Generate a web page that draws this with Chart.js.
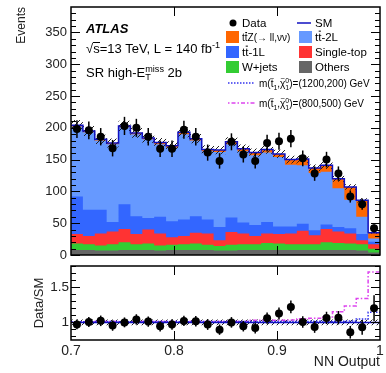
<!DOCTYPE html>
<html>
<head>
<meta charset="utf-8">
<script src="https://cdn.jsdelivr.net/npm/chart.js@4.4.0/dist/chart.umd.min.js"></script>
<style>
body { margin: 0; background: #fff; }
#wrap { position: relative; width: 386px; height: 373px; }
#main { position: absolute; left: 0; top: 0; }
#ratio { position: absolute; left: 0; top: 262px; }
</style>
</head>
<body>
<div id="wrap">
<canvas id="main" width="386" height="262"></canvas>
<canvas id="ratio" width="386" height="111"></canvas>
</div>
<script>
// NN output binning
var binLo = 0.7, binHi = 1.0;

// observed events per bin
var dataObs = [198, 196, 186, 168, 203, 200, 186, 167, 167, 197, 186, 161, 148, 178, 158, 148, 176, 179, 183, 152, 128, 150, 128, 92, 80, 42];

// background yields per bin
var others    = [8, 8, 7, 7, 8, 8, 8, 7, 8, 8, 8, 8, 7, 7, 8, 8, 8, 8, 8, 8, 8, 8, 8, 8, 7, 4];
var wjets     = [10, 9, 8, 10, 12, 9, 10, 8, 8, 9, 10, 8, 7, 9, 9, 9, 11, 10, 9, 9, 9, 12, 11, 10, 10, 6];
var singleTop = [15, 13, 19, 20, 21, 16, 22, 19, 12, 13, 17, 18, 9, 20, 17, 13, 15, 15, 17, 21, 14, 21, 18, 16, 6, 7];
var tt1L      = [59, 41, 37, 15, 39, 28, 18, 26, 25, 26, 26, 22, 21, 23, 17, 17, 18, 12, 11, 11, 8, 7, 7, 8, 10, 4];
var tt2L      = [110, 122, 109, 122, 121, 129, 124, 114, 116, 134, 119, 107, 118, 115, 112, 110, 109, 109, 97, 92, 90, 83, 61, 45, 27, 5];
var ttZ       = [2, 2, 2, 2, 2, 2, 2, 3, 3, 3, 3, 3, 3, 4, 4, 4, 5, 5, 8, 10, 8, 10, 15, 20, 26, 9];

// signal yields per bin
var sig1200 = [2, 2, 2, 2, 2, 2, 2, 2, 2, 2, 2, 2, 2, 2, 2, 2, 2, 2, 2, 2, 2, 2, 2, 2, 4, 5];
var sig800  = [2, 2, 2, 2, 2, 2, 2, 2, 2, 2, 2, 2, 2, 2, 2, 5, 5, 5, 5, 8, 8, 11, 18, 25, 29, 25];

var systFrac = 0.04;

var yTicksMain = [0, 50, 100, 150, 200, 250, 300, 350];
var yTicksRatio = [1, 1.5];
var xTicks = [0.7, 0.8, 0.9, 1];

var nBins = dataObs.length;
var binW = (binHi - binLo) / nBins;

var colOthers = '#666666', colW = '#33cc33', colST = '#ff3333', col1L = '#3366ff', col2L = '#6699ff', colZ = '#ff6600';
var colSM = '#1010c0', colS1 = '#3333ee', colS2 = '#dd44ee';
var fontFam = '"Liberation Sans", Arial, sans-serif';

function steps(vals) {
  var pts = vals.map(function (v, i) { return { x: binLo + i * binW, y: v }; });
  pts.push({ x: binHi, y: vals[vals.length - 1] });
  return pts;
}

function centers(vals) {
  return vals.map(function (v, i) { return { x: binLo + (i + 0.5) * binW, y: v }; });
}

// running sums for the stack
var comps = [others, wjets, singleTop, tt1L, tt2L, ttZ];
var cum = [];
comps.forEach(function (c, k) {
  cum.push(c.map(function (v, i) { return v + (k ? cum[k - 1][i] : 0); }));
});
var sm = cum[cum.length - 1];

var ratio = dataObs.map(function (v, i) { return v / sm[i]; });
var errMain = dataObs.map(function (v) { return Math.sqrt(v); });
var errRatio = dataObs.map(function (v, i) { return Math.sqrt(v) / sm[i]; });

function hatch(ctx) {
  var c = document.createElement('canvas');
  c.width = 5; c.height = 5;
  var g = c.getContext('2d');
  g.strokeStyle = '#222';
  g.lineWidth = 1;
  g.beginPath();
  g.moveTo(0, 5); g.lineTo(5, 0);
  g.moveTo(-1, 1); g.lineTo(1, -1);
  g.moveTo(4, 6); g.lineTo(6, 4);
  g.stroke();
  return ctx.createPattern(c, 'repeat');
}

// keep the plot area where the layout padding puts it
function noEdgePadding(s) {
  s.paddingTop = 0; s.paddingBottom = 0; s.paddingLeft = 0; s.paddingRight = 0;
}

// frame with inward ticks on all four sides
var framePlugin = {
  id: 'frame',
  afterDraw: function (chart, args, opts) {
    var ctx = chart.ctx, a = chart.chartArea, xs = chart.scales.x, ys = chart.scales.y;
    ctx.save();
    ctx.strokeStyle = '#000';
    ctx.lineWidth = 1;
    ctx.beginPath();
    opts.minor.forEach(function (v) {
      var py = Math.round(ys.getPixelForValue(v)) + 0.5;
      var len = opts.major.indexOf(v) >= 0 ? 9 : 5;
      ctx.moveTo(a.left, py); ctx.lineTo(a.left + len, py);
      ctx.moveTo(a.right, py); ctx.lineTo(a.right - len, py);
    });
    opts.xMajor.forEach(function (v) {
      var px = Math.round(xs.getPixelForValue(v)) + 0.5;
      ctx.moveTo(px, a.top); ctx.lineTo(px, a.top + 9);
      ctx.moveTo(px, a.bottom); ctx.lineTo(px, a.bottom - 9);
    });
    ctx.stroke();
    ctx.lineWidth = 1.5;
    ctx.strokeRect(a.left, a.top, a.right - a.left, a.bottom - a.top);
    ctx.restore();
  }
};

var errPlugin = {
  id: 'errbars',
  afterDatasetsDraw: function (chart) {
    var ctx = chart.ctx, ys = chart.scales.y;
    chart.data.datasets.forEach(function (ds, di) {
      if (!ds.errors) return;
      var meta = chart.getDatasetMeta(di);
      ctx.save();
      ctx.strokeStyle = '#000';
      ctx.lineWidth = 1.5;
      meta.data.forEach(function (pt, i) {
        var y = ds.data[i].y, e = ds.errors[i];
        ctx.beginPath();
        ctx.moveTo(pt.x, ys.getPixelForValue(y - e));
        ctx.lineTo(pt.x, ys.getPixelForValue(y + e));
        ctx.stroke();
      });
      ctx.restore();
    });
  }
};

// text with sub/superscripts, tildes and bars
function rich(ctx, x, y, parts, size) {
  parts.forEach(function (p) {
    if (typeof p === 'string') p = { t: p };
    if (p.sub !== undefined || p.sup !== undefined) {
      var s = size * 0.7, w = 0;
      ctx.font = s + 'px ' + fontFam;
      if (p.sup !== undefined) { ctx.fillText(p.sup, x, y - size * 0.42); w = ctx.measureText(p.sup).width; }
      if (p.sub !== undefined) { ctx.fillText(p.sub, x, y + size * 0.25); w = Math.max(w, ctx.measureText(p.sub).width); }
      x += w;
      return;
    }
    ctx.font = size + 'px ' + fontFam;
    var tw = ctx.measureText(p.t).width;
    ctx.fillText(p.t, x, y);
    if (p.bar) {
      ctx.fillRect(x + 0.5, y - size * 0.9, tw - 1, 1);
    }
    if (p.tilde) {
      ctx.font = (size * 0.75) + 'px ' + fontFam;
      var ww = ctx.measureText('~').width;
      ctx.fillText('~', x + (tw - ww) / 2, y - size * 0.62);
    }
    x += tw;
  });
  return x;
}

var labelPlugin = {
  id: 'labels',
  afterDraw: function (chart) {
    var ctx = chart.ctx;
    ctx.save();
    ctx.fillStyle = '#000';
    ctx.textBaseline = 'alphabetic';
    ctx.font = 'italic bold 13px ' + fontFam;
    ctx.fillText('ATLAS', 86, 33);

    rich(ctx, 86, 53, ['\u221As=13 TeV, L = 140 fb', { sup: '-1' }], 13);
    // overline of the square root
    ctx.fillRect(93, 42, 7, 1);

    rich(ctx, 86, 77, ['SR high-E', { sub: 'T', sup: 'miss' }, ' 2b'], 13);

    var fs = 11.5;
    // Data / SM
    ctx.beginPath();
    ctx.arc(233, 23, 3.5, 0, Math.PI * 2);
    ctx.fill();
    rich(ctx, 242, 27, ['Data'], fs);
    ctx.strokeStyle = colSM;
    ctx.lineWidth = 1.5;
    ctx.beginPath(); ctx.moveTo(297, 23); ctx.lineTo(311, 23); ctx.stroke();
    rich(ctx, 315, 27, ['SM'], fs);

    var boxes = [
      [226, 37, colZ, ['t', { t: 't', bar: true }, 'Z(\u2192 ll,\u03BD\u03BD)'], 10],
      [299, 37, col2L, ['t', { t: 't', bar: true }, '-2L'], fs],
      [226, 52, col1L, ['t', { t: 't', bar: true }, '-1L'], fs],
      [299, 52, colST, ['Single-top'], fs],
      [226, 67, colW, ['W+jets'], fs],
      [299, 67, colOthers, ['Others'], fs]
    ];
    boxes.forEach(function (b) {
      ctx.fillStyle = b[2];
      ctx.fillRect(b[0], b[1] - 6, 13, 12);
      ctx.fillStyle = '#000';
      rich(ctx, b[0] + 16, b[1] + 4, b[3], b[4]);
    });

    ctx.lineWidth = 1.5;
    ctx.strokeStyle = colS1;
    ctx.setLineDash([1.5, 1.5]);
    ctx.beginPath(); ctx.moveTo(228, 83); ctx.lineTo(255, 83); ctx.stroke();
    ctx.strokeStyle = colS2;
    ctx.setLineDash([1.5, 2, 4, 2]);
    ctx.beginPath(); ctx.moveTo(228, 103); ctx.lineTo(255, 103); ctx.stroke();
    ctx.setLineDash([]);

    var mPart = ['m(', { t: 't', tilde: true }, { sub: '1' }, ',', { t: '\u03C7', tilde: true }, { sub: '1', sup: '0' }, ')='];
    rich(ctx, 259, 87, mPart.concat(['(1200,200) GeV']), 10);
    rich(ctx, 259, 107, mPart.concat(['(800,500) GeV']), 10);
    ctx.restore();
  }
};

var mainCtx = document.getElementById('main').getContext('2d');
var hatchMain = hatch(mainCtx);

function stackSet(vals, color) {
  return {
    data: steps(vals), stepped: true, borderWidth: 0, pointRadius: 0,
    backgroundColor: color, fill: 'origin'
  };
}

var minorMain = [];
for (var k = 0; k <= 38; k++) minorMain.push(k * 10);

new Chart(mainCtx, {
  type: 'line',
  data: {
    datasets: [
      { data: centers(dataObs), errors: errMain, showLine: false, pointRadius: 4, pointBackgroundColor: '#000', pointBorderWidth: 0 },
      { data: steps(sm), stepped: true, borderColor: colSM, borderWidth: 1.5, pointRadius: 0, fill: false },
      { data: steps(sm.map(function (v) { return v * (1 + systFrac); })), stepped: true, borderWidth: 0, pointRadius: 0, fill: '+1', backgroundColor: hatchMain },
      { data: steps(sm.map(function (v) { return v * (1 - systFrac); })), stepped: true, borderWidth: 0, pointRadius: 0, fill: false },
      stackSet(cum[0], colOthers),
      stackSet(cum[1], colW),
      stackSet(cum[2], colST),
      stackSet(cum[3], col1L),
      stackSet(cum[4], col2L),
      stackSet(cum[5], colZ)
    ]
  },
  options: {
    responsive: false,
    animation: false,
    layout: { padding: { top: 7, right: 6, bottom: 7, left: 0 } },
    plugins: {
      legend: { display: false },
      tooltip: { enabled: false },
      frame: { minor: minorMain, major: yTicksMain, xMajor: [0.8, 0.9] }
    },
    scales: {
      x: { type: 'linear', min: binLo, max: binHi, display: false },
      y: {
        min: 0, max: 390,
        afterFit: function (s) { s.width = 71; noEdgePadding(s); },
        afterBuildTicks: function (s) { s.ticks = yTicksMain.map(function (v) { return { value: v }; }); },
        grid: { display: false, drawTicks: false },
        border: { display: false },
        ticks: { color: '#222', padding: 4, font: { family: fontFam, size: 13 } },
        title: { display: true, text: 'Events', align: 'end', color: '#222', font: { family: fontFam, size: 12 }, padding: { top: 14 } }
      }
    }
  },
  plugins: [errPlugin, framePlugin, labelPlugin]
});

var ratioCtx = document.getElementById('ratio').getContext('2d');
var hatchRatio = hatch(ratioCtx);

var minorRatio = [];
for (var j = 8; j <= 18; j++) minorRatio.push(j / 10);

new Chart(ratioCtx, {
  type: 'line',
  data: {
    datasets: [
      { data: centers(ratio), errors: errRatio, showLine: false, pointRadius: 4, pointBackgroundColor: '#000', pointBorderWidth: 0 },
      { data: steps(sm.map(function () { return 1; })), stepped: true, borderColor: colSM, borderWidth: 1.5, pointRadius: 0, fill: false },
      { data: steps(sig1200.map(function (v, i) { return (sm[i] + v) / sm[i]; })), stepped: true, borderColor: colS1, borderWidth: 1.5, borderDash: [1.5, 1.5], pointRadius: 0, fill: false },
      { data: steps(sig800.map(function (v, i) { return (sm[i] + v) / sm[i]; })), stepped: true, borderColor: colS2, borderWidth: 1.5, borderDash: [1.5, 2, 4, 2], pointRadius: 0, fill: false },
      { data: steps(sm.map(function () { return 1 + systFrac; })), stepped: true, borderWidth: 0, pointRadius: 0, fill: '+1', backgroundColor: hatchRatio },
      { data: steps(sm.map(function () { return 1 - systFrac; })), stepped: true, borderWidth: 0, pointRadius: 0, fill: false }
    ]
  },
  options: {
    responsive: false,
    animation: false,
    layout: { padding: { top: 4, right: 6, bottom: 0, left: 0 } },
    plugins: {
      legend: { display: false },
      tooltip: { enabled: false },
      frame: { minor: minorRatio, major: yTicksRatio, xMajor: [0.8, 0.9] }
    },
    scales: {
      x: {
        type: 'linear', min: binLo, max: binHi,
        afterFit: function (s) { s.height = 33; noEdgePadding(s); },
        afterBuildTicks: function (s) { s.ticks = xTicks.map(function (v) { return { value: v }; }); },
        grid: { display: false, drawTicks: false },
        border: { display: false },
        ticks: { color: '#222', padding: 3, maxRotation: 0, font: { family: fontFam, size: 14 }, callback: function (v) { return String(+v.toFixed(1)); } },
        title: { display: true, text: 'NN Output', align: 'end', color: '#222', font: { family: fontFam, size: 14 }, padding: { top: 0, bottom: 2 } }
      },
      y: {
        min: 0.75, max: 1.8,
        afterFit: function (s) { s.width = 71; noEdgePadding(s); },
        afterBuildTicks: function (s) { s.ticks = yTicksRatio.map(function (v) { return { value: v }; }); },
        grid: { display: false, drawTicks: false },
        border: { display: false },
        ticks: { color: '#222', padding: 2, font: { family: fontFam, size: 13.5 }, callback: function (v) { return String(v); } },
        title: { display: true, text: 'Data/SM', color: '#222', font: { family: fontFam, size: 13 }, padding: { top: 32 } }
      }
    }
  },
  plugins: [errPlugin, framePlugin]
});
</script>
</body>
</html>
